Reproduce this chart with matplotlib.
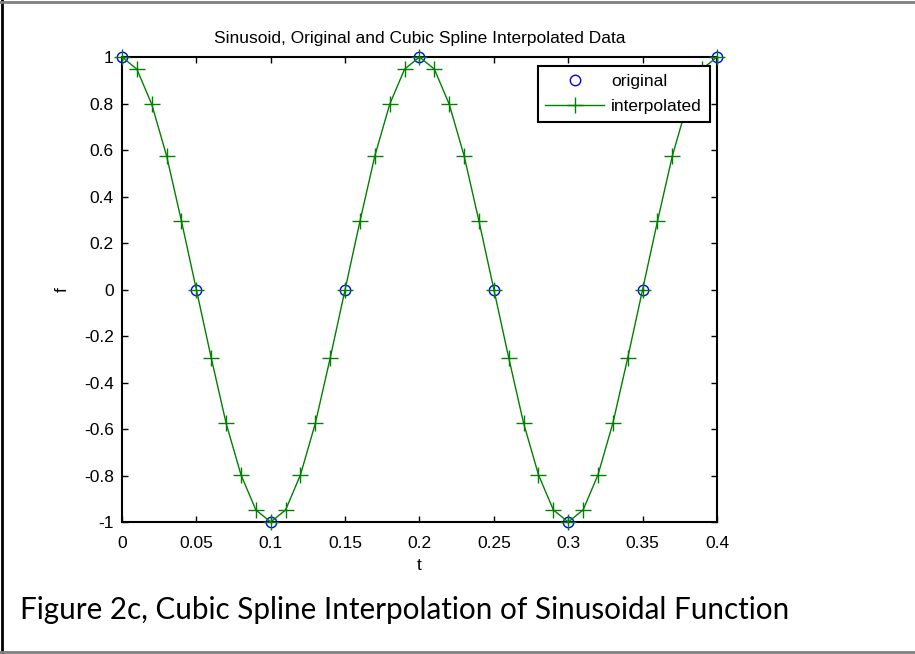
import matplotlib
matplotlib.use("Agg")
import matplotlib.pyplot as plt
from matplotlib.lines import Line2D

# dados originais (amostras do seno)
t_orig = [0, 0.05, 0.1, 0.15, 0.2, 0.25, 0.3, 0.35, 0.4]
f_orig = [1, 0, -1, 0, 1, 0, -1, 0, 1]

# dados interpolados (spline cubica)
t_interp = [0.00, 0.01, 0.02, 0.03, 0.04, 0.05, 0.06, 0.07, 0.08, 0.09,
            0.10, 0.11, 0.12, 0.13, 0.14, 0.15, 0.16, 0.17, 0.18, 0.19,
            0.20, 0.21, 0.22, 0.23, 0.24, 0.25, 0.26, 0.27, 0.28, 0.29,
            0.30, 0.31, 0.32, 0.33, 0.34, 0.35, 0.36, 0.37, 0.38, 0.39,
            0.40]
f_interp = [1.0, 0.948, 0.797, 0.575, 0.294, 0.0, -0.294, -0.575, -0.797, -0.948,
            -1.0, -0.948, -0.797, -0.575, -0.294, 0.0, 0.294, 0.575, 0.797, 0.948,
            1.0, 0.948, 0.797, 0.575, 0.294, 0.0, -0.294, -0.575, -0.797, -0.948,
            -1.0, -0.948, -0.797, -0.575, -0.294, 0.0, 0.294, 0.575, 0.797, 0.948,
            1.0]

x_ticks = [0, 0.05, 0.1, 0.15, 0.2, 0.25, 0.3, 0.35, 0.4]
x_labels = ["0", "0.05", "0.1", "0.15", "0.2", "0.25", "0.3", "0.35", "0.4"]
y_ticks = [-1, -0.8, -0.6, -0.4, -0.2, 0, 0.2, 0.4, 0.6, 0.8, 1]
y_labels = ["-1", "-0.8", "-0.6", "-0.4", "-0.2", "0", "0.2", "0.4", "0.6", "0.8", "1"]

plt.rcParams["font.family"] = ["Liberation Sans", "DejaVu Sans"]

fig = plt.figure(figsize=(9.15, 6.54), dpi=100)
ax = fig.add_axes([0.1333, 0.2018, 0.6503, 0.711])

verde = "#008000"
ax.plot(t_orig, f_orig, linestyle="none", marker="o", markersize=7.5,
        markerfacecolor="none", markeredgecolor="blue", markeredgewidth=1.0,
        clip_on=False, zorder=3)
ax.plot(t_interp, f_interp, color=verde, linewidth=1.0, marker="+",
        markersize=11, markeredgewidth=1.0, clip_on=False, zorder=4)

ax.set_xlim(0, 0.4)
ax.set_ylim(-1, 1)
ax.set_xticks(x_ticks)
ax.set_xticklabels(x_labels)
ax.set_yticks(y_ticks)
ax.set_yticklabels(y_labels)
ax.tick_params(direction="in", top=True, right=True, length=4, width=1,
               labelsize=12.5, pad=6)
ax.tick_params(axis="x", pad=10)
for s in ax.spines.values():
    s.set_linewidth(1.5)

ax.set_title("Sinusoid, Original and Cubic Spline Interpolated Data", fontsize=12.5, pad=10)
ax.set_xlabel("t", fontsize=12.5, labelpad=5)
ax.set_ylabel("f", fontsize=12.5, labelpad=10)

# legenda no estilo matlab
handles = [
    Line2D([], [], linestyle="none", marker="o", markersize=7.5,
           markerfacecolor="none", markeredgecolor="blue"),
    Line2D([], [], color=verde, linewidth=1.0, marker="+", markersize=11),
]
leg = ax.legend(handles, ["original", "interpolated"], loc="upper right",
                bbox_to_anchor=(0.988, 0.981), borderaxespad=0, fontsize=12.5,
                fancybox=False, framealpha=1, edgecolor="black",
                handlelength=3.4, handletextpad=0.4, borderpad=0.45,
                labelspacing=0.6)
leg.get_frame().set_linewidth(1.5)

# legenda de baixo (caption)
fig.text(0.022, 0.067, "Figure 2c, Cubic Spline Interpolation of Sinusoidal Function",
         fontsize=21.3, family=["Lato", "DejaVu Sans"], va="center", ha="left")

# moldura da figura
fig.add_artist(Line2D([0.002, 0.002], [0, 1], transform=fig.transFigure,
                      color="black", linewidth=2))
fig.add_artist(Line2D([0, 1], [0.997, 0.997], transform=fig.transFigure,
                      color="gray", linewidth=2))
fig.add_artist(Line2D([0, 1], [0.003, 0.003], transform=fig.transFigure,
                      color="gray", linewidth=2))

fig.savefig("out.png", dpi=100)
